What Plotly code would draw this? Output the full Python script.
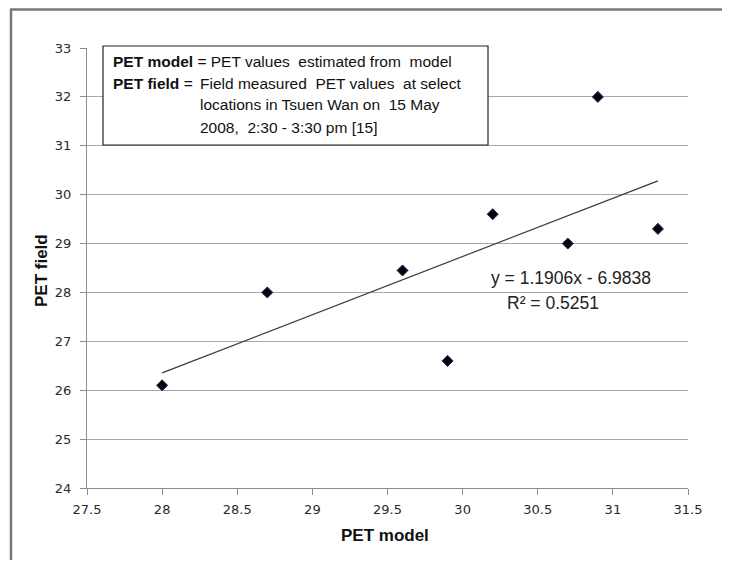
import numpy as np
import plotly.graph_objects as go

# Data
pet_model = [28.0, 28.7, 29.6, 29.9, 30.2, 30.7, 30.9, 31.3]
pet_field = [26.1, 28.0, 28.45, 26.6, 29.6, 29.0, 32.0, 29.3]
x_ticks = [27.5, 28, 28.5, 29, 29.5, 30, 30.5, 31, 31.5]
y_ticks = [24, 25, 26, 27, 28, 29, 30, 31, 32, 33]
eq_text = "y = 1.1906x - 6.9838"
r2_text = "R² = 0.5251"

# Linear trendline from the data
slope, intercept = np.polyfit(pet_model, pet_field, 1)
tx = [min(pet_model), max(pet_model)]
ty = [slope * v + intercept for v in tx]

OFF = 8                      # page body margin
W, H = 722, 552
L, R, T, B = 87 - OFF, 688 - OFF, 48 - OFF, 488 - OFF  # plot area (figure px)


def px(x):
    """reference page x pixel -> paper coordinate"""
    return (x - OFF - L) / (R - L)


def py(y):
    """reference page y pixel -> paper coordinate"""
    return (B - (y - OFF)) / (B - T)


fig = go.Figure()
fig.add_trace(go.Scatter(x=tx, y=ty, mode="lines",
                         line=dict(color="#3a3a3a", width=1.2),
                         hoverinfo="skip", showlegend=False))
fig.add_trace(go.Scatter(x=pet_model, y=pet_field, mode="markers",
                         marker=dict(symbol="diamond", size=8.5, color="#050510",
                                     line=dict(color="#1c2f5a", width=1)),
                         showlegend=False))

fig.update_layout(
    width=W, height=H,
    margin=dict(l=L, r=W - R, t=T, b=H - B, pad=0),
    paper_bgcolor="white", plot_bgcolor="white",
    font=dict(family="DejaVu Sans", color="#333333"),
    xaxis=dict(range=[27.5, 31.5], tickvals=x_ticks,
               ticktext=[f"{v:g}" for v in x_ticks],
               showgrid=False, zeroline=False,
               showline=True, linecolor="#8c8c8c", linewidth=1,
               ticks="outside", ticklen=6, tickcolor="#8c8c8c",
               ticklabelstandoff=3,
               tickfont=dict(family="DejaVu Sans", size=13, color="#2a2a2a")),
    yaxis=dict(range=[24, 33], tickvals=y_ticks,
               showgrid=True, gridcolor="#a8a8a8", gridwidth=1,
               zeroline=False,
               showline=True, linecolor="#8c8c8c", linewidth=1,
               ticks="outside", ticklen=6, tickcolor="#8c8c8c",
               ticklabelstandoff=6,
               tickfont=dict(family="DejaVu Sans", size=13, color="#2a2a2a")),
)

# Outer frame (left and top edges), kept inside the figure
fig.add_shape(type="line", xref="paper", yref="paper",
              x0=px(11), x1=px(11), y0=py(9), y1=py(OFF + H),
              line=dict(color="#777777", width=2.5))
fig.add_shape(type="line", xref="paper", yref="paper",
              x0=px(10), x1=px(OFF + W), y0=py(9.5), y1=py(9.5),
              line=dict(color="#777777", width=2.5))

# Legend box
fig.add_shape(type="rect", xref="paper", yref="paper",
              x0=px(103), x1=px(488), y0=py(145), y1=py(46),
              line=dict(color="#222222", width=1.2), fillcolor="white",
              layer="above")

box_font = dict(family="Liberation Sans", size=15.5, color="#111111")


def note(x, y, text, **kw):
    fig.add_annotation(xref="paper", yref="paper", x=px(x), y=py(y),
                       text=text, showarrow=False, xanchor="left",
                       yanchor="middle", font=box_font, **kw)


note(111, 61, "<b>PET model</b> = PET values  estimated from  model")
note(111, 83, "<b>PET field</b> =")
note(198, 83, "Field measured  PET values  at select")
note(198, 105, "locations in Tsuen Wan on  15 May")
note(198, 127, "2008,  2:30 - 3:30 pm [15]")

# Trendline equation
eq_font = dict(family="Liberation Sans", size=17.5, color="#222222")
fig.add_annotation(xref="paper", yref="paper", x=px(571), y=py(278),
                   text=eq_text, showarrow=False, xanchor="center",
                   yanchor="middle", font=eq_font)
fig.add_annotation(xref="paper", yref="paper", x=px(553), y=py(303),
                   text=r2_text, showarrow=False, xanchor="center",
                   yanchor="middle", font=eq_font)

# Axis titles
title_font = dict(family="Liberation Sans", size=17, color="#111111")
fig.add_annotation(xref="paper", yref="paper", x=px(385), y=py(535),
                   text="<b>PET model</b>", showarrow=False,
                   xanchor="center", yanchor="middle", font=title_font)
fig.add_annotation(xref="paper", yref="paper", x=px(41), y=py(271),
                   text="<b>PET field</b>", showarrow=False, textangle=-90,
                   xanchor="center", yanchor="middle", font=title_font)

fig.write_html("out.html")
